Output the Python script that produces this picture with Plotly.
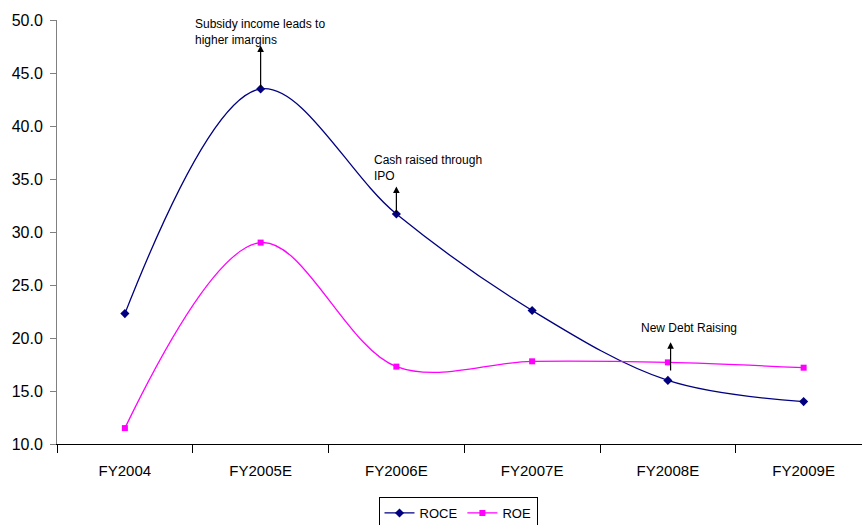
import plotly.graph_objects as go

years = ["FY2004", "FY2005E", "FY2006E", "FY2007E", "FY2008E", "FY2009E"]
roce = [22.3, 43.5, 31.7, 22.6, 16.0, 14.0]
roe = [11.5, 29.0, 17.3, 17.8, 17.7, 17.2]
y_ticks = [10, 15, 20, 25, 30, 35, 40, 45, 50]

FONT = "Liberation Sans, Arial, sans-serif"
Y_MIN, Y_MAX = 10, 50

fig = go.Figure()
fig.add_trace(go.Scatter(
    x=years, y=roce, name="ROCE", mode="lines+markers",
    line=dict(color="#000080", width=1.3, shape="spline", smoothing=1.0),
    marker=dict(symbol="diamond", size=7, color="#000080"),
))
fig.add_trace(go.Scatter(
    x=years, y=roe, name="ROE", mode="lines+markers",
    line=dict(color="#ff00ff", width=1.3, shape="spline", smoothing=1.0),
    marker=dict(symbol="square", size=6, color="#ff00ff"),
))

# Callout notes with upward arrows from the data points
notes = [
    dict(text="Subsidy income leads to<br>higher imargins", tx=0.5, ty=50.45, ax=1, y0=43.5, y1=47.6),
    dict(text="Cash raised through<br>IPO", tx=1.82, ty=37.6, ax=2, y0=31.7, y1=34.3),
    dict(text="New Debt Raising", tx=3.79, ty=21.75, ax=4.02, y0=16.8, y1=19.6),
]
for n in notes:
    fig.add_annotation(
        x=n["ax"], y=n["y1"], ax=n["ax"], ay=n["y0"], xref="x", yref="y",
        axref="x", ayref="y", text="", showarrow=True,
        arrowhead=2, arrowsize=1.1, arrowwidth=1.2, arrowcolor="black",
        standoff=0, startstandoff=0,
    )
    # text placed in paper units so notes above the axis top stay visible
    fig.add_annotation(
        x=n["tx"], y=(n["ty"] - Y_MIN) / (Y_MAX - Y_MIN), xref="x", yref="paper",
        text=n["text"], showarrow=False, xanchor="left", yanchor="top",
        align="left", font=dict(family=FONT, size=12, color="black"),
    )

fig.update_layout(
    width=862, height=525,
    margin=dict(l=57, r=0, t=20, b=81, autoexpand=False),
    paper_bgcolor="white", plot_bgcolor="white",
    font=dict(family=FONT, size=15, color="black"),
    showlegend=True,
    legend=dict(
        orientation="h", x=458 / 862, xref="container", xanchor="center",
        y=1 - 497 / 525, yref="container", yanchor="top",
        bordercolor="black", borderwidth=1, bgcolor="white",
        font=dict(family=FONT, size=13, color="black"),
        itemwidth=30, tracegroupgap=0,
    ),
)
fig.update_xaxes(
    type="category", range=[-0.5, 5.43],
    showline=True, linecolor="black", linewidth=1,
    ticks="outside", tickson="boundaries", ticklen=8, tickcolor="black",
    showgrid=False, zeroline=False, ticklabelstandoff=13,
    tickfont=dict(family=FONT, size=15),
)
fig.update_yaxes(
    range=[Y_MIN, Y_MAX], tickvals=y_ticks, tickformat=".1f",
    showline=True, linecolor="#808080", linewidth=1,
    ticks="outside", ticklen=6, tickcolor="#808080",
    showgrid=False, zeroline=False, ticklabelstandoff=4,
    tickfont=dict(family=FONT, size=16),
)

fig.write_html("out.html")
